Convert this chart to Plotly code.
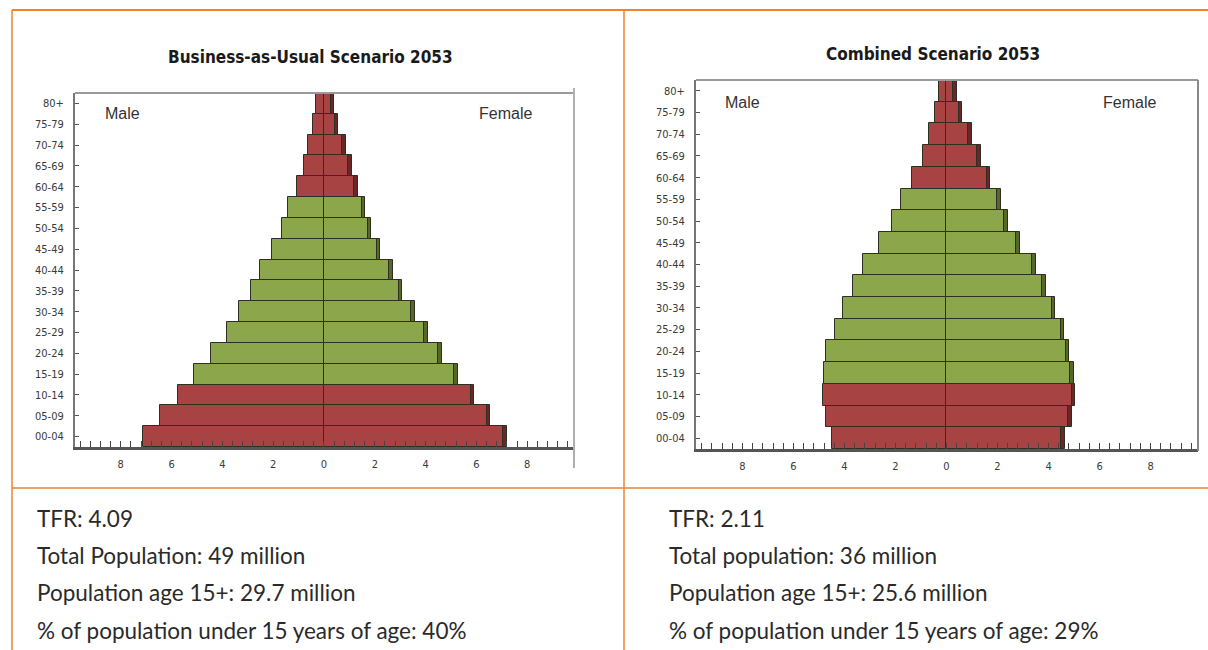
import plotly.graph_objects as go

W, H = 1208, 650

ages = ["00-04", "05-09", "10-14", "15-19", "20-24", "25-29", "30-34", "35-39",
        "40-44", "45-49", "50-54", "55-59", "60-64", "65-69", "70-74", "75-79", "80+"]

# Business-as-usual 2053 (% of population)
bau_male = [7.14, 6.46, 5.75, 5.10, 4.45, 3.82, 3.35, 2.87, 2.52, 2.06, 1.64, 1.42, 1.08, 0.78, 0.62, 0.42, 0.30]
bau_female = [7.06, 6.40, 5.78, 5.13, 4.50, 3.94, 3.43, 2.94, 2.56, 2.07, 1.72, 1.48, 1.19, 0.96, 0.71, 0.42, 0.26]

# Combined scenario 2053
comb_male = [4.48, 4.72, 4.84, 4.80, 4.73, 4.38, 4.04, 3.65, 3.29, 2.65, 2.14, 1.80, 1.37, 0.93, 0.70, 0.44, 0.31]
comb_female = [4.49, 4.77, 4.91, 4.86, 4.68, 4.47, 4.12, 3.76, 3.36, 2.74, 2.26, 1.98, 1.57, 1.20, 0.85, 0.48, 0.26]

tick_vals = [-8, -6, -4, -2, 0, 2, 4, 6, 8]
tick_text = ["8", "6", "4", "2", "0", "2", "4", "6", "8"]

titles = ["Business-as-Usual Scenario 2053", "Combined Scenario 2053"]
left_text = ["TFR: 4.09", "Total Population: 49 million",
             "Population age 15+: 29.7 million",
             "% of population under 15 years of age: 40%"]
right_text = ["TFR: 2.11", "Total population: 36 million",
              "Population age 15+: 25.6 million",
              "% of population under 15 years of age: 29%"]

RED, GREEN = "#A84343", "#8BA64B"
RED_D, GREEN_D = "#6A2727", "#56692B"
face = [RED if (i < 3 or i >= 12) else GREEN for i in range(len(ages))]
shade = [RED_D if (i < 3 or i >= 12) else GREEN_D for i in range(len(ages))]
SHADOW = 0.14


def px(x):
    return x / W


def py(y):
    return 1 - y / H


fig = go.Figure()

panels = [
    dict(male=bau_male, female=bau_female, xa="x", ya="y",
         dom_x=[px(75), px(574)], dom_y=[py(447), py(93)], rng=[-9.8, 9.84]),
    dict(male=comb_male, female=comb_female, xa="x2", ya="y2",
         dom_x=[px(696), px(1198)], dom_y=[py(449), py(80)], rng=[-9.82, 9.86]),
]

for p in panels:
    fig.add_trace(go.Bar(y=ages, x=[v + SHADOW for v in p["female"]], orientation="h",
                         marker=dict(color=shade, line=dict(color="#2e2e22", width=1)),
                         xaxis=p["xa"], yaxis=p["ya"], hoverinfo="skip", showlegend=False))
    fig.add_trace(go.Bar(y=ages, x=p["female"], orientation="h",
                         marker=dict(color=face, line=dict(color="#2e2e22", width=1)),
                         xaxis=p["xa"], yaxis=p["ya"], showlegend=False))
    fig.add_trace(go.Bar(y=ages, x=[-v for v in p["male"]], orientation="h",
                         marker=dict(color=face, line=dict(color="#2e2e22", width=1)),
                         xaxis=p["xa"], yaxis=p["ya"], showlegend=False))

axfont = dict(family="DejaVu Sans Condensed, Arial", size=11, color="#3a3a3a")
for i, p in enumerate(panels):
    sfx = "" if i == 0 else "2"
    fig.layout["xaxis" + sfx] = dict(
        domain=p["dom_x"], range=p["rng"], anchor="y" + sfx,
        tickvals=tick_vals, ticktext=tick_text, ticks="inside", ticklen=6,
        tickcolor="#444", tickwidth=1,
        minor=dict(ticks="inside", dtick=0.4, tick0=0, ticklen=6, tickcolor="#444", tickwidth=1),
        showline=True, linecolor="#555", linewidth=3, showgrid=False, zeroline=False,
        tickfont=axfont, ticklabelstandoff=5, fixedrange=True)
    fig.layout["yaxis" + sfx] = dict(
        domain=p["dom_y"], range=[-0.5, 16.5], anchor="x" + sfx,
        type="category", categoryorder="array", categoryarray=ages,
        ticks="inside", ticklen=4, tickcolor="#555",
        showline=True, linecolor="#777", linewidth=2, showgrid=False, zeroline=False,
        tickfont=axfont, ticklabelstandoff=7, fixedrange=True)

shapes = []
ORANGE = "#EC8433"
# table lines
shapes.append(dict(type="line", xref="paper", yref="paper", x0=px(12), x1=1, y0=py(10), y1=py(10),
                   line=dict(color=ORANGE, width=2)))
shapes.append(dict(type="line", xref="paper", yref="paper", x0=px(12), x1=1, y0=py(488), y1=py(488),
                   line=dict(color=ORANGE, width=1.5)))
shapes.append(dict(type="line", xref="paper", yref="paper", x0=px(12), x1=px(12), y0=py(10), y1=0,
                   line=dict(color=ORANGE, width=1.5)))
shapes.append(dict(type="line", xref="paper", yref="paper", x0=px(624), x1=px(624), y0=py(10), y1=0,
                   line=dict(color=ORANGE, width=1.5)))
# chart frames (top and right)
shapes.append(dict(type="line", xref="paper", yref="paper", x0=px(75), x1=px(574), y0=py(93), y1=py(93),
                   line=dict(color="#9a9a9a", width=2)))
shapes.append(dict(type="line", xref="paper", yref="paper", x0=px(574), x1=px(574), y0=py(88), y1=py(468),
                   line=dict(color="#b0b0b0", width=2)))
shapes.append(dict(type="line", xref="paper", yref="paper", x0=px(696), x1=px(1198), y0=py(80), y1=py(80),
                   line=dict(color="#9a9a9a", width=2)))
shapes.append(dict(type="line", xref="paper", yref="paper", x0=px(1198), x1=px(1198), y0=py(80), y1=py(451),
                   line=dict(color="#888", width=2)))

ann = []
tfont = dict(family="DejaVu Sans Condensed", size=17, color="#1a1a1a")
ann.append(dict(text="<b>" + titles[0] + "</b>", x=px(310), y=py(57), xref="paper", yref="paper",
                showarrow=False, xanchor="center", yanchor="middle", font=tfont))
ann.append(dict(text="<b>" + titles[1] + "</b>", x=px(933), y=py(54), xref="paper", yref="paper",
                showarrow=False, xanchor="center", yanchor="middle", font=tfont))
lab_font = dict(family="Liberation Sans, Arial", size=16, color="#333")
for (x, y, t) in [(122, 114, "Male"), (505, 114, "Female"), (743, 102, "Male"), (1129, 102, "Female")]:
    ann.append(dict(text=t, x=px(x), y=py(y), xref="paper", yref="paper", showarrow=False,
                    xanchor="center", yanchor="middle", font=lab_font))
txt_font = dict(family="Lato, Open Sans", size=22.5, color="#2a2a2a")
for k, yy in enumerate([518, 555, 592, 630]):
    ann.append(dict(text=left_text[k], x=px(35), y=py(yy), xref="paper", yref="paper", showarrow=False,
                    xanchor="left", yanchor="middle", font=txt_font))
    ann.append(dict(text=right_text[k], x=px(667), y=py(yy), xref="paper", yref="paper", showarrow=False,
                    xanchor="left", yanchor="middle", font=txt_font))

fig.update_layout(width=W, height=H, margin=dict(l=0, r=0, t=0, b=0),
                  paper_bgcolor="white", plot_bgcolor="white",
                  barmode="overlay", bargap=0, shapes=shapes, annotations=ann,
                  showlegend=False)

fig.write_html("out.html", config={"displayModeBar": False},
               post_script="document.body.style.margin='0px';")
